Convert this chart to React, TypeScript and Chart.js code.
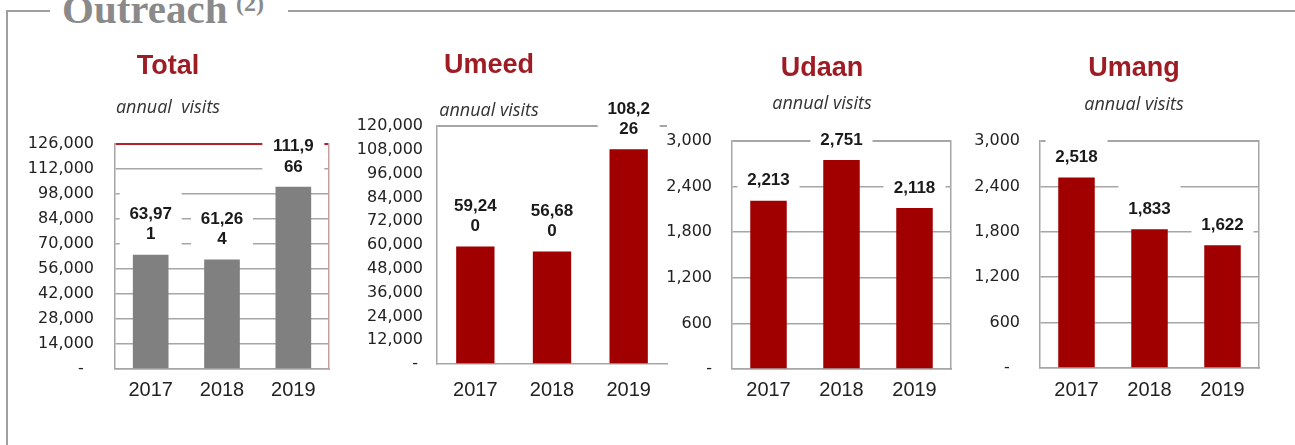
import React, { useEffect, useRef } from "react";
import { Chart, registerables } from "chart.js";

Chart.register(...registerables);

// ---------------- data ----------------
const years = ["2017", "2018", "2019"];
// bar heights as drawn in the picture
const totalValues = [63971, 61264, 102000];
const totalLabels = ["63,971", "61,264", "111,966"];
const umeedValues = [59240, 56680, 108226];
const udaanValues = [2213, 2751, 2118];
const umangValues = [2518, 1833, 1622];

const totalAxis = { max: 126000, step: 14000 };
const umeedAxis = { max: 120000, step: 12000 };
const udaanAxis = { max: 3000, step: 600 };
const umangAxis = { max: 3000, step: 600 };

const fmt = (v: number) => v.toLocaleString("en-US");

// ---------------- fonts ----------------
function hasFont(name: string): boolean {
  try {
    const c = document.createElement("canvas").getContext("2d");
    if (!c) return false;
    c.font = "40px monospace";
    const a = c.measureText("2017 abcdefg").width;
    c.font = `40px "${name}", monospace`;
    const b = c.measureText("2017 abcdefg").width;
    return Math.abs(a - b) > 0.5;
  } catch (e) {
    return false;
  }
}
const NARROW = hasFont("Liberation Sans Narrow");
const xFont = NARROW
  ? { family: '"Liberation Sans Narrow", Arial, sans-serif', size: 24, lineHeight: 1.2 }
  : { family: '"Liberation Sans", Arial, sans-serif', size: 20, lineHeight: 1.2 };

const RED = "#a00000";
const GRAY_BAR = "#808080";
const TITLE_RED = "#9e1c24";
const GRID = "#a6a6a6";

const H = 420;
const X_AXIS_H = 40;
const TITLE_SIZE = 27;
const SUB_SIZE = 18;

interface Spec {
  title: string;
  subtitle: string;
  values: number[];
  labels: string[];
  color: string;
  axis: { max: number; step: number };
  left: number; // canvas left (page)
  padL: number;
  yAxisW: number;
  rightW: number; // width of the right-hand (border) axis
  padR: number;
  plotRight: number; // page x
  tickPad: number;
  titleY: number;
  subY: number;
  plotTop: number;
  plotBottom: number;
  zero: string;
  gridMode: "all" | "top";
  topColor: string;
  rightBorder: string | null;
}

const specs: Spec[] = [
  {
    title: "Total",
    subtitle: "annual  visits",
    values: totalValues,
    labels: totalLabels,
    color: GRAY_BAR,
    axis: totalAxis,
    left: 0,
    padL: 7,
    yAxisW: 108,
    rightW: 0,
    padR: 6,
    plotRight: 329,
    tickPad: 21,
    titleY: 67,
    subY: 108,
    plotTop: 144,
    plotBottom: 369,
    zero: "-  ",
    gridMode: "all",
    topColor: "#b5242c",
    rightBorder: "#c9a0a0",
  },
  {
    title: "Umeed",
    subtitle: "annual visits",
    values: umeedValues,
    labels: umeedValues.map(fmt),
    color: RED,
    axis: umeedAxis,
    left: 300,
    padL: 11,
    yAxisW: 126,
    rightW: 0,
    padR: 6,
    plotRight: 667,
    tickPad: 14,
    titleY: 66,
    subY: 111,
    plotTop: 126,
    plotBottom: 364,
    zero: "- ",
    gridMode: "top",
    topColor: GRID,
    rightBorder: null,
  },
  {
    title: "Udaan",
    subtitle: "annual visits",
    values: udaanValues,
    labels: udaanValues.map(fmt),
    color: RED,
    axis: udaanAxis,
    left: 650,
    padL: 10,
    yAxisW: 72,
    rightW: 33,
    padR: 4,
    plotRight: 951,
    tickPad: 20,
    titleY: 68.5,
    subY: 104,
    plotTop: 141,
    plotBottom: 369,
    zero: "-",
    gridMode: "all",
    topColor: GRID,
    rightBorder: GRID,
  },
  {
    title: "Umang",
    subtitle: "annual visits",
    values: umangValues,
    labels: umangValues.map(fmt),
    color: RED,
    axis: umangAxis,
    left: 955,
    padL: 10,
    yAxisW: 75,
    rightW: 44,
    padR: 0,
    plotRight: 1259,
    tickPad: 20,
    titleY: 69,
    subY: 105,
    plotTop: 141,
    plotBottom: 368,
    zero: "-  ",
    gridMode: "all",
    topColor: GRID,
    rightBorder: GRID,
  },
];

const labelPlugin = {
  id: "barLabels",
  afterDatasetsDraw(chart: any, _args: any, opts: any) {
    const { ctx, chartArea } = chart;
    ctx.save();
    const meta = chart.getDatasetMeta(0);
    const labels: string[] = opts.labels || [];
    const lh = 20.4;
    ctx.font = 'bold 17px "Liberation Sans", Arial, sans-serif';
    ctx.textAlign = "center";
    ctx.textBaseline = "middle";
    meta.data.forEach((bar: any, i: number) => {
      const text = labels[i];
      if (!text) return;
      const lines = text.length > 5 ? [text.slice(0, 5), text.slice(5)] : [text];
      const lastMid = bar.y - 14 - 6;
      const firstMid = lastMid - (lines.length - 1) * lh;
      const boxTop = firstMid - 6 - 18;
      const boxBottom = lastMid + 6 + 5;
      let x0 = bar.x - 31;
      let x1 = bar.x + 31;
      x0 = Math.max(x0, chartArea.left + 1.5);
      x1 = Math.min(x1, chartArea.right - 1.5);
      ctx.fillStyle = "#ffffff";
      ctx.fillRect(x0, boxTop, x1 - x0, boxBottom - boxTop);
      ctx.fillStyle = "#1a1a1a";
      lines.forEach((l, j) => ctx.fillText(l, bar.x, firstMid + j * lh));
    });
    ctx.restore();
  },
};

function Panel({ spec }: { spec: Spec }) {
  const ref = useRef<HTMLCanvasElement | null>(null);
  const width = spec.plotRight + spec.rightW + spec.padR - spec.left;
  useEffect(() => {
    if (!ref.current) return;
    const s = spec;
    const titleHalf = (TITLE_SIZE * 1.2) / 2;
    const subHalf = (SUB_SIZE * 1.2) / 2;
    const xPad = 390 - s.plotBottom - (xFont.size * xFont.lineHeight) / 2;
    const chart = new Chart(ref.current, {
      type: "bar",
      data: {
        labels: years,
        datasets: [
          {
            data: s.values,
            backgroundColor: s.color,
            borderWidth: 0,
            barPercentage: 0.5,
            categoryPercentage: 1,
            yAxisID: "y",
          },
        ],
      },
      options: {
        responsive: false,
        animation: false,
        devicePixelRatio: 1,
        layout: {
          padding: { left: s.padL, right: s.padR, top: 0, bottom: H - X_AXIS_H - s.plotBottom },
        },
        plugins: {
          legend: { display: false },
          tooltip: { enabled: false },
          title: {
            display: true,
            text: s.title,
            color: TITLE_RED,
            font: { family: '"Liberation Sans", Arial, sans-serif', size: TITLE_SIZE, weight: "bold", lineHeight: 1.2 },
            padding: { top: s.titleY - titleHalf, bottom: 0 },
          },
          subtitle: {
            display: true,
            text: s.subtitle,
            color: "#333333",
            font: { family: '"Open Sans", sans-serif', size: SUB_SIZE, style: "italic", lineHeight: 1.2 },
            padding: {
              top: s.subY - (s.titleY + titleHalf) - subHalf,
              bottom: s.plotTop - s.subY - subHalf,
            },
          },
          barLabels: { labels: s.labels },
        } as any,
        scales: {
          x: {
            afterFit: (sc: any) => {
              sc.height = X_AXIS_H;
            },
            grid: { display: false, drawTicks: false },
            border: { display: true, color: GRID, width: 1.5 },
            ticks: {
              color: "#222222",
              font: xFont as any,
              padding: xPad,
              maxRotation: 0,
            },
          },
          y: {
            position: "left",
            min: 0,
            max: s.axis.max,
            afterFit: (sc: any) => {
              sc.width = s.yAxisW;
            },
            grid: {
              drawTicks: false,
              lineWidth: (c: any) => (c.tick && c.tick.value === s.axis.max ? 2 : 1.5),
              color: (c: any) => {
                if (!c.tick) return GRID;
                if (c.tick.value === s.axis.max) return s.topColor;
                return s.gridMode === "all" ? GRID : "rgba(0,0,0,0)";
              },
            },
            border: { display: true, color: GRID, width: 1.5 },
            ticks: {
              stepSize: s.axis.step,
              padding: s.tickPad,
              color: "#222222",
              font: { family: '"DejaVu Sans", sans-serif', size: 16 },
              callback: (v: any) => (Number(v) === 0 ? s.zero : fmt(Number(v))),
            },
          },
          y2: {
            type: "linear",
            position: "right",
            display: true,
            min: 0,
            max: 1,
            afterFit: (sc: any) => {
              sc.width = s.rightW;
            },
            grid: { display: false, drawTicks: false },
            ticks: { display: false },
            border: {
              display: !!s.rightBorder,
              color: s.rightBorder || GRID,
              width: 1.5,
            },
          },
        },
      },
      plugins: [labelPlugin as any],
    });
    return () => chart.destroy();
  }, [spec]);
  return (
    <canvas
      ref={ref}
      width={width}
      height={H}
      style={{ position: "absolute", left: spec.left, top: 0, width: width, height: H }}
    />
  );
}

export default function App() {
  return (
    <div
      style={{
        position: "absolute",
        left: 0,
        top: 0,
        width: 1295,
        height: 445,
        overflow: "hidden",
        background: "#ffffff",
      }}
    >
      <div
        style={{
          position: "absolute",
          left: 6,
          top: 10,
          width: 1400,
          height: 600,
          borderTop: "2px solid #9f9f9f",
          borderLeft: "2px solid #9f9f9f",
          boxSizing: "border-box",
        }}
      />
      <div
        style={{
          position: "absolute",
          left: 50,
          top: -8,
          width: 238,
          height: 40,
          background: "#ffffff",
          whiteSpace: "nowrap",
          fontFamily: '"Liberation Serif", "Times New Roman", serif',
          fontWeight: "bold",
          color: "#8a8a8a",
        }}
      >
        <span style={{ position: "absolute", left: 12, top: -3, fontSize: 41, lineHeight: "41px" }}>Outreach</span>
        <span style={{ position: "absolute", left: 186, top: -1, fontSize: 24, lineHeight: "24px" }}>(2)</span>
      </div>
      {specs.map((s) => (
        <Panel key={s.title} spec={s} />
      ))}
    </div>
  );
}
